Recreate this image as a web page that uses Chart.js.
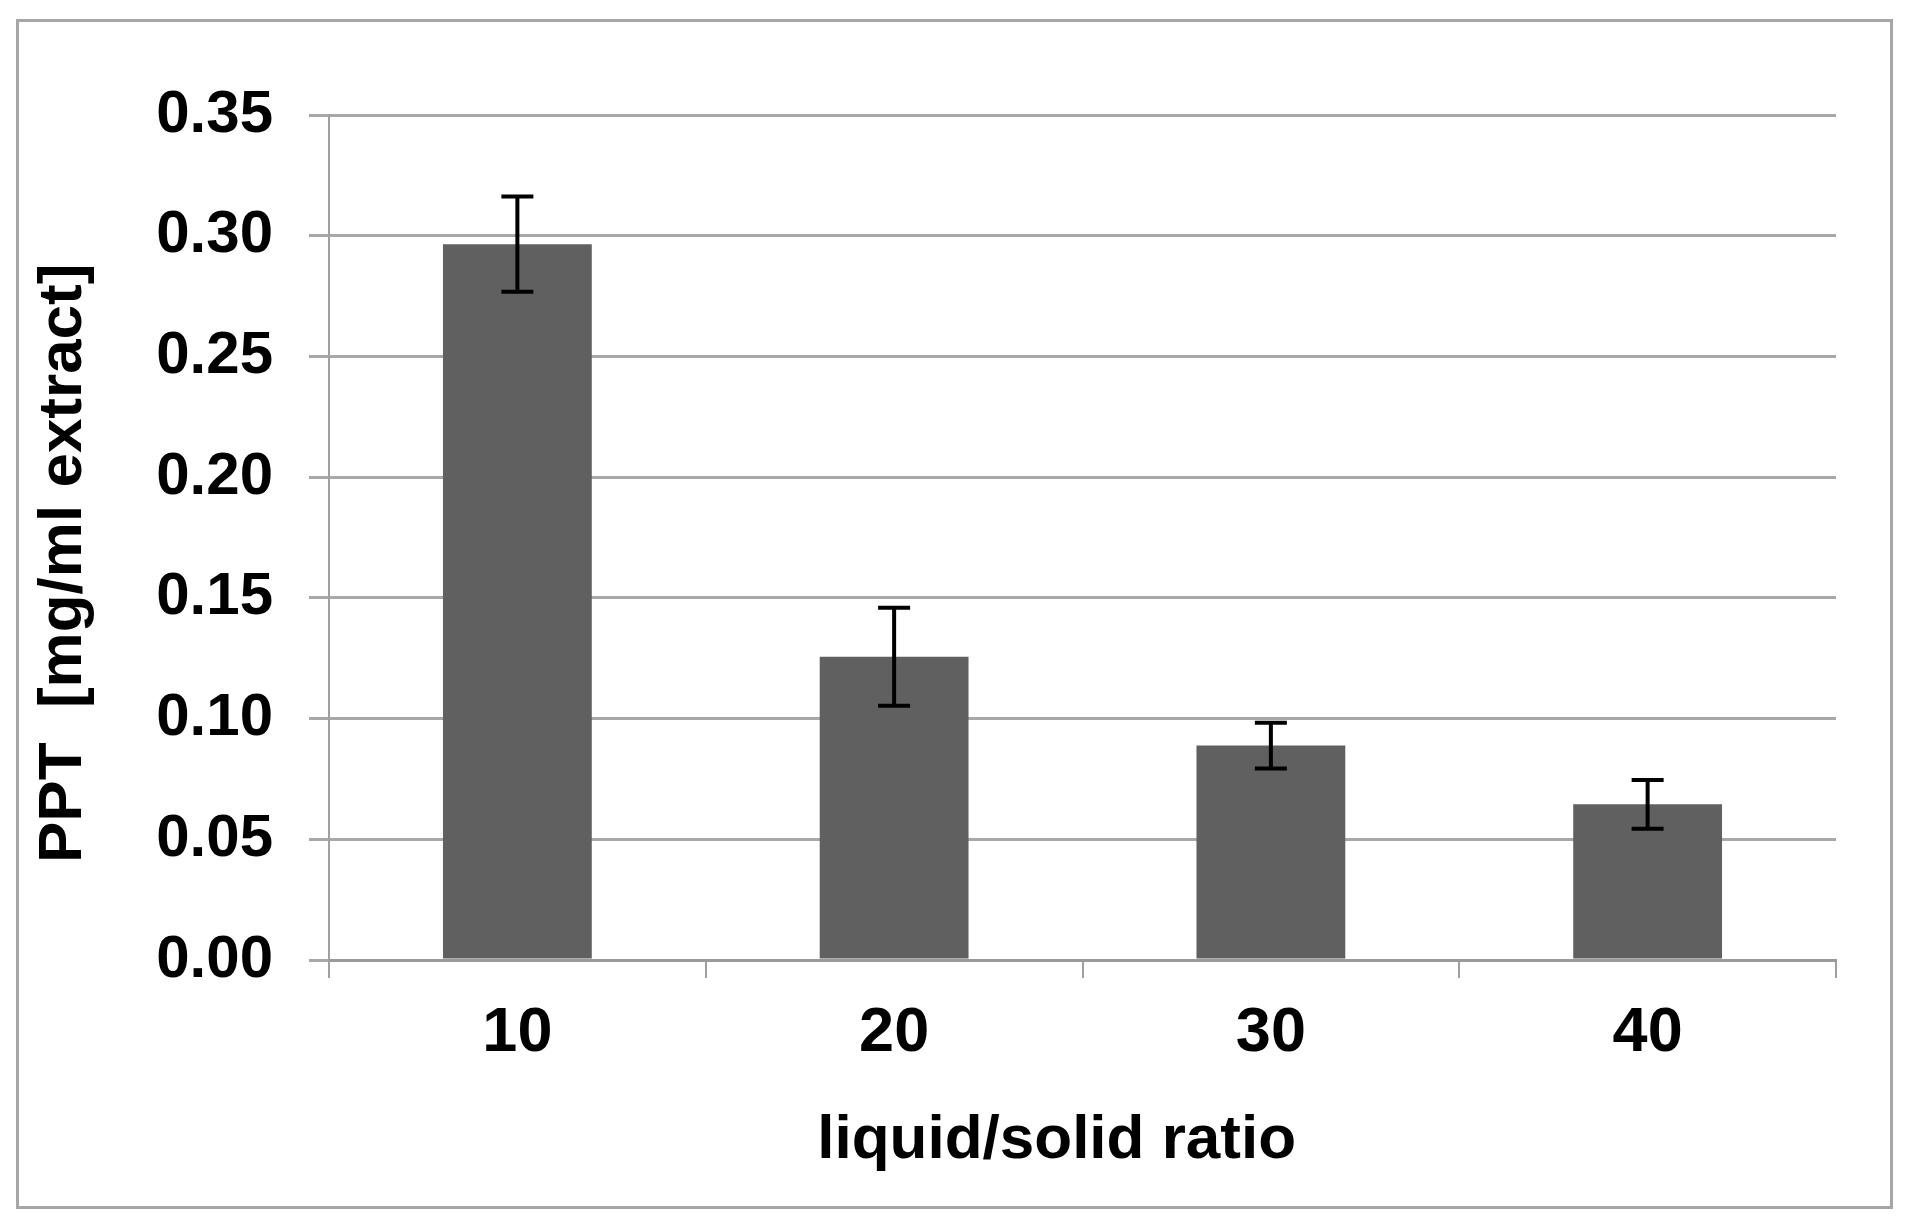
<!DOCTYPE html>
<html>
<head>
<meta charset="utf-8">
<title>PPT vs liquid/solid ratio</title>
<script src="https://cdn.jsdelivr.net/npm/chart.js@4.4.1/dist/chart.umd.min.js"></script>
<style>
    body { margin: 0; background: #fff; }
    #wrap { position: relative; width: 1913px; height: 1224px; }
    #graph { position: absolute; left: 0; top: 0; }
    /* outer frame like the excel chart border */
    #frame {
        position: absolute; left: 16px; top: 19px; width: 1877px; height: 1190px;
        box-sizing: border-box; border: 3px solid #a6a6a6; pointer-events: none;
    }
</style>
</head>
<body>
<div id="wrap">
    <canvas id="graph" width="1913" height="1224"></canvas>
    <div id="frame"></div>
</div>
<script>
// data
const ratios = ['10', '20', '30', '40'];
const pptValues = [0.2965, 0.1256, 0.0888, 0.0645];
const pptErrors = [0.0197, 0.0203, 0.0095, 0.0101];
const yTicks = [0, 0.05, 0.10, 0.15, 0.20, 0.25, 0.30, 0.35];

const FONT = "'Liberation Sans', Arial, sans-serif";

// error bars drawn with the y scale of the chart
const errorBars = {
    id: 'errorBars',
    afterDatasetsDraw(chart) {
        const ctx = chart.ctx;
        const y = chart.scales.y;
        const meta = chart.getDatasetMeta(0);
        ctx.save();
        ctx.strokeStyle = '#000';
        ctx.lineWidth = 4;
        meta.data.forEach((bar, i) => {
            const top = y.getPixelForValue(pptValues[i] + pptErrors[i]);
            const bot = y.getPixelForValue(pptValues[i] - pptErrors[i]);
            const cap = 16;
            ctx.beginPath();
            ctx.moveTo(bar.x, top);
            ctx.lineTo(bar.x, bot);
            ctx.moveTo(bar.x - cap, top);
            ctx.lineTo(bar.x + cap, top);
            ctx.moveTo(bar.x - cap, bot);
            ctx.lineTo(bar.x + cap, bot);
            ctx.stroke();
        });
        ctx.restore();
    }
};

const graphConfig = {
    type: 'bar',
    data: {
        labels: ratios,
        datasets: [{
            data: pptValues,
            backgroundColor: '#606060',
            borderWidth: 0,
            categoryPercentage: 1,
            barPercentage: 0.395,
        }]
    },
    options: {
        responsive: false,
        animation: false,
        devicePixelRatio: 1,
        layout: {
            padding: { left: 30, top: 115, right: 77, bottom: 30 }
        },
        plugins: {
            legend: { display: false },
            tooltip: { enabled: false }
        },
        scales: {
            x: {
                grid: {
                    drawOnChartArea: false,
                    drawTicks: true,
                    tickLength: 18,
                    color: '#a0a0a0',
                    lineWidth: 2
                },
                border: { display: true, color: '#9a9a9a', width: 3 },
                ticks: {
                    color: '#000',
                    padding: 18,
                    font: { family: FONT, size: 63, weight: 'bold' }
                },
                title: {
                    display: true,
                    text: 'liquid/solid ratio   ',
                    color: '#000',
                    padding: { top: 0, bottom: 22 },
                    font: { family: FONT, size: 62, weight: 'bold', lineHeight: 1 }
                },
                afterFit(scale) { scale.height = 234; }
            },
            y: {
                min: 0,
                max: 0.35,
                afterBuildTicks(scale) {
                    scale.ticks = yTicks.map(v => ({ value: v }));
                },
                grid: {
                    color: '#a8a8a8',
                    lineWidth: 3,
                    tickLength: 20
                },
                border: { display: true, color: '#a0a0a0', width: 2 },
                ticks: {
                    color: '#000',
                    padding: 36,
                    font: { family: FONT, size: 60, weight: 'bold' },
                    callback: (v) => Number(v).toFixed(2)
                },
                title: {
                    display: true,
                    text: 'PPT  [mg/ml extract]   ',
                    color: '#000',
                    padding: { top: 3, bottom: 0 },
                    font: { family: FONT, size: 62, weight: 'bold', lineHeight: 1 }
                },
                afterFit(scale) { scale.width = 299; }
            }
        }
    },
    plugins: [errorBars]
};

new Chart(document.getElementById('graph'), graphConfig);
</script>
</body>
</html>
